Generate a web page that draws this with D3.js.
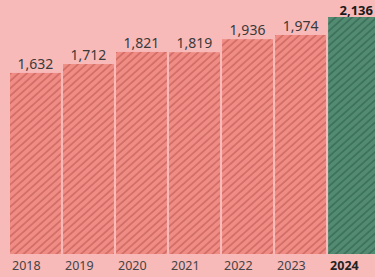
<!DOCTYPE html>
<html>
<head>
<meta charset="utf-8">
<script src="https://cdn.jsdelivr.net/npm/d3@7"></script>
<style>
  html, body { margin: 0; padding: 0; background: #f8b9b9; overflow: hidden; }
</style>
</head>
<body>
<script>
var years = ["2018", "2019", "2020", "2021", "2022", "2023", "2024"];
var values = [1632, 1712, 1821, 1819, 1936, 1974, 2136];
var highlight = "2024";

var width = 375;
var height = 277;

var svg = d3.select("body")
    .append("svg")
    .attr("width", width)
    .attr("height", height);

// hatch patterns
var defs = svg.append("defs");
function hatch(id, bg, line) {
    let p = defs.append("pattern")
        .attr("id", id)
        .attr("patternUnits", "userSpaceOnUse")
        .attr("width", 5.5)
        .attr("height", 5.5)
        .attr("patternTransform", "rotate(48)");
    p.append("rect").attr("width", 5.5).attr("height", 5.5).attr("fill", bg);
    p.append("line")
        .attr("x1", 1).attr("y1", 0).attr("x2", 1).attr("y2", 5.5)
        .attr("stroke", line)
        .attr("stroke-width", 1.4);
}
hatch("hatchRed", "#f08c84", "#c8665f");
hatch("hatchGreen", "#528b72", "#386a55");

var x = d3.scaleBand()
    .domain(years)
    .range([10, 379])
    .paddingInner(0.04)
    .paddingOuter(0);

var y = d3.scaleLinear()
    .domain([0, 2136])
    .range([254, 17]);

// bars
svg.selectAll("rect.bar")
    .data(years)
    .enter()
    .append("rect")
    .attr("class", "bar")
    .attr("x", (d) => x(d))
    .attr("y", (d, i) => y(values[i]))
    .attr("width", x.bandwidth())
    .attr("height", (d, i) => y(0) - y(values[i]))
    .attr("fill", (d) => d === highlight ? "url(#hatchGreen)" : "url(#hatchRed)");

// value labels (the last one is pulled in so it stays on the page)
svg.selectAll("text.val")
    .data(years)
    .enter()
    .append("text")
    .attr("class", "val")
    .text((d, i) => d3.format(",")(values[i]))
    .attr("x", (d) => d === highlight ? width - 2 : x(d) + x.bandwidth() / 2)
    .attr("y", (d, i) => y(values[i]) - (d === highlight ? 2.5 : 4))
    .attr("text-anchor", (d) => d === highlight ? "end" : "middle")
    .attr("font-family", "'Noto Sans', sans-serif")
    .attr("font-size", (d) => d === highlight ? "13px" : "14px")
    .attr("font-weight", (d) => d === highlight ? "bold" : "normal")
    .attr("fill", (d) => d === highlight ? "#1a1a1a" : "#3a3a3a");

// year labels
svg.selectAll("text.year")
    .data(years)
    .enter()
    .append("text")
    .attr("class", "year")
    .text((d) => d)
    .attr("x", (d) => x(d) + 2)
    .attr("y", 270)
    .attr("font-family", "'Noto Sans', sans-serif")
    .attr("font-size", "12.5px")
    .attr("font-weight", (d) => d === highlight ? "bold" : "normal")
    .attr("fill", (d) => d === highlight ? "#222" : "#444");
</script>
</body>
</html>
